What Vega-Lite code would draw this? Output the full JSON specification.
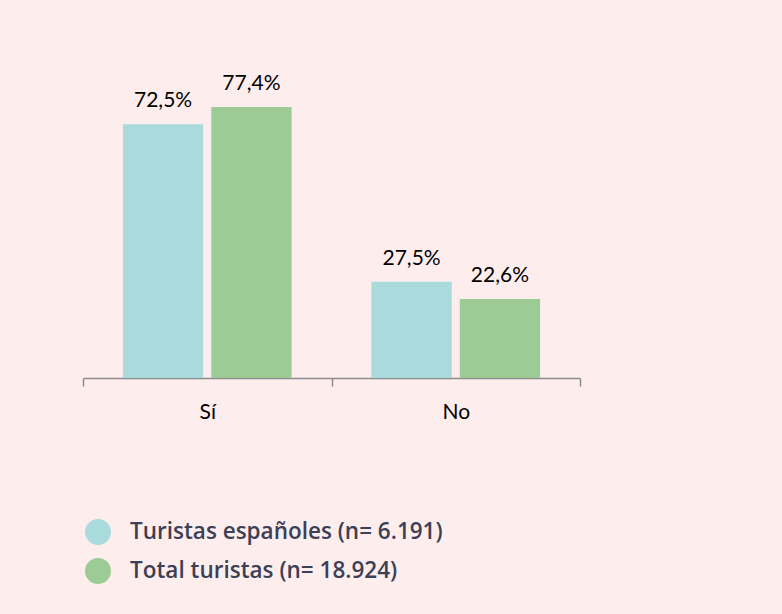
{
  "$schema": "https://vega.github.io/schema/vega-lite/v6.json",
  "width": 497,
  "height": 350,
  "autosize": {"type": "none"},
  "padding": {"left": 83, "top": 28, "right": 202, "bottom": 236},
  "background": "#fdeeed",
  "config": {"view": {"stroke": null}, "font": "Lato"},
  "data": {
    "values": [
      {"respuesta": "Sí", "grupo": "Turistas españoles (n= 6.191)", "valor": 72.5, "etiqueta": "72,5%"},
      {"respuesta": "Sí", "grupo": "Total turistas (n= 18.924)", "valor": 77.4, "etiqueta": "77,4%"},
      {"respuesta": "No", "grupo": "Turistas españoles (n= 6.191)", "valor": 27.5, "etiqueta": "27,5%"},
      {"respuesta": "No", "grupo": "Total turistas (n= 18.924)", "valor": 22.6, "etiqueta": "22,6%"}
    ]
  },
  "encoding": {
    "x": {
      "field": "respuesta",
      "type": "nominal",
      "sort": ["Sí", "No"],
      "scale": {"paddingInner": 0, "paddingOuter": 0},
      "axis": {
        "title": null,
        "labelAngle": 0,
        "labelFontSize": 21,
        "labelColor": "#000000",
        "labelPadding": 15,
        "domainColor": "#8c8c8c",
        "domainWidth": 1.5,
        "tickColor": "#8c8c8c",
        "tickWidth": 1.5,
        "tickSize": 8,
        "tickBand": "extent"
      }
    },
    "xOffset": {
      "field": "grupo",
      "sort": ["Turistas españoles (n= 6.191)", "Total turistas (n= 18.924)"],
      "scale": {"paddingInner": 0.0909, "paddingOuter": 0.4517}
    },
    "y": {
      "field": "valor",
      "type": "quantitative",
      "scale": {"domain": [0, 100]},
      "axis": null
    }
  },
  "layer": [
    {
      "mark": {"type": "bar"},
      "encoding": {
        "color": {
          "field": "grupo",
          "type": "nominal",
          "sort": ["Turistas españoles (n= 6.191)", "Total turistas (n= 18.924)"],
          "scale": {"range": ["#a9dbdd", "#9dcb96"]},
          "legend": {
            "title": null,
            "orient": "none",
            "legendX": 2,
            "legendY": 491,
            "symbolType": "circle",
            "symbolSize": 676,
            "symbolStrokeWidth": 0,
            "symbolOpacity": 1,
            "labelFont": "Open Sans",
            "labelFontSize": 22.5,
            "labelFontWeight": 600,
            "labelColor": "#3c3f55",
            "labelOffset": 19,
            "rowPadding": 13,
            "labelLimit": 600
          }
        }
      }
    },
    {
      "mark": {"type": "text", "dy": -17, "baseline": "alphabetic", "fontSize": 21, "color": "#000000"},
      "encoding": {"text": {"field": "etiqueta"}}
    }
  ]
}
